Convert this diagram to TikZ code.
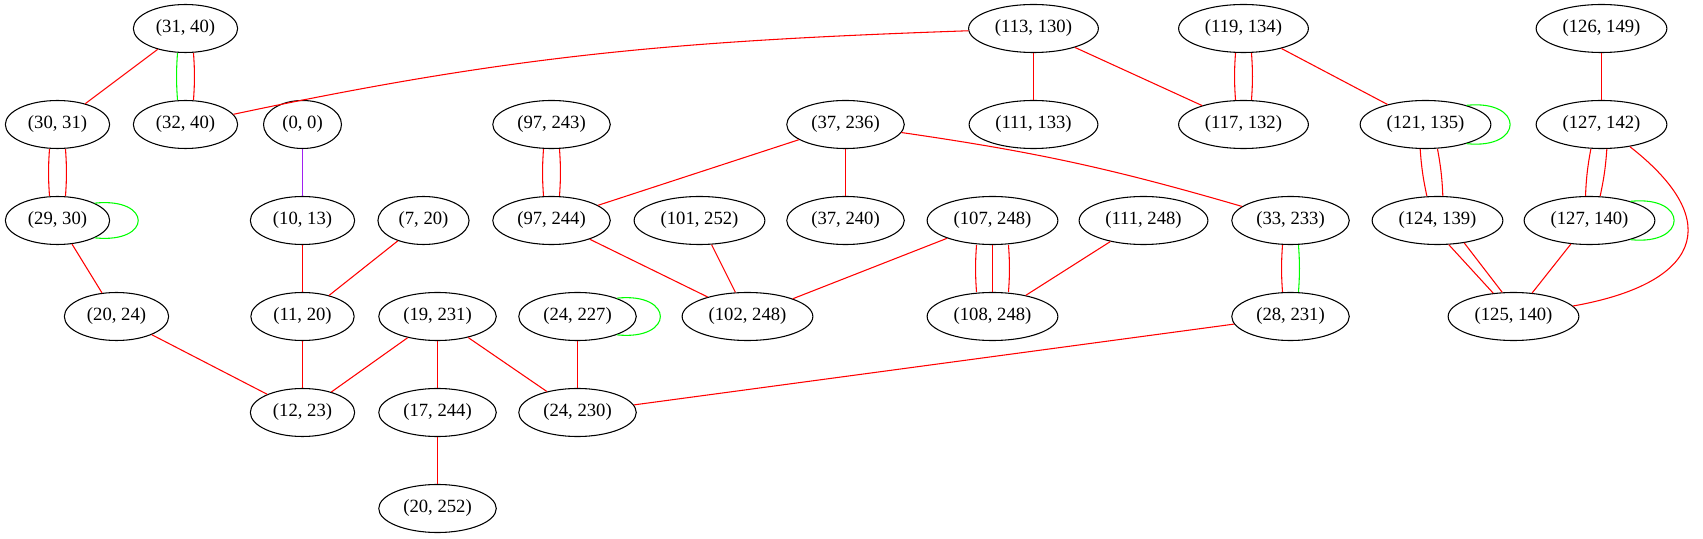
\documentclass[tikz,border=0pt]{standalone}
\usepackage{fontspec}
\setmainfont{Liberation Serif}
\usetikzlibrary{shapes.geometric}
\definecolor{gvpurple}{RGB}{160,32,240}
\begin{document}
\begin{tikzpicture}[x=0.75pt, y=0.75pt, line width=0.8pt,
					every node/.style={draw, ellipse, font=\fontsize{14}{16}\selectfont, inner xsep=5.5pt, inner ysep=2pt, minimum height=36pt},
					link/.style={draw=red},
					twin/.style={draw=green},
					selfloop/.style={draw=green}]
					\useasboundingbox (0,0) rectangle (1703,539);
					\begin{scope}[shift={(0.5,0.5)}]
					% row 1
					\node (n31x40) at (185,510) {(31, 40)};
					\node (n113x130) at (1033,510) {(113, 130)};
					\node (n119x134) at (1243,510) {(119, 134)};
					\node (n126x149) at (1601,510) {(126, 149)};
					% row 2
					\node (n30x31) at (57,414) {(30, 31)};
					\node (n32x40) at (185,414) {(32, 40)};
					\node (n0x0) at (302,414) {(0, 0)};
					\node (n97x243) at (551,414) {(97, 243)};
					\node (n37x236) at (845,414) {(37, 236)};
					\node (n111x133) at (1033,414) {(111, 133)};
					\node (n117x132) at (1243,414) {(117, 132)};
					\node (n121x135) at (1425,414) {(121, 135)};
					\node (n127x142) at (1601,414) {(127, 142)};
					% row 3
					\node (n29x30) at (57,318) {(29, 30)};
					\node (n10x13) at (302,318) {(10, 13)};
					\node (n7x20) at (423,318) {(7, 20)};
					\node (n97x244) at (551,318) {(97, 244)};
					\node (n101x252) at (699,318) {(101, 252)};
					\node (n37x240) at (845,318) {(37, 240)};
					\node (n107x248) at (992,318) {(107, 248)};
					\node (n111x248) at (1143,318) {(111, 248)};
					\node (n33x233) at (1290,318) {(33, 233)};
					\node (n124x139) at (1437,318) {(124, 139)};
					\node (n127x140) at (1589,318) {(127, 140)};
					% row 4
					\node (n20x24) at (116,222) {(20, 24)};
					\node (n11x20) at (302,222) {(11, 20)};
					\node (n19x231) at (437,222) {(19, 231)};
					\node (n24x227) at (577,222) {(24, 227)};
					\node (n102x248) at (747,222) {(102, 248)};
					\node (n108x248) at (992,222) {(108, 248)};
					\node (n28x231) at (1290,222) {(28, 231)};
					\node (n125x140) at (1513,222) {(125, 140)};
					% rows 5 and 6
					\node (n12x23) at (302,126) {(12, 23)};
					\node (n17x244) at (437,126) {(17, 244)};
					\node (n24x230) at (577,126) {(24, 230)};
					\node (n20x252) at (437,30) {(20, 252)};

					% single edges
					\draw[link] (n31x40) -- (n30x31);
					\draw[link] (n113x130) to[out=182, in=12] (n32x40);
					\draw[link] (n113x130) -- (n111x133);
					\draw[link] (n113x130) -- (n117x132);
					\draw[link] (n119x134) -- (n121x135);
					\draw[link] (n126x149) -- (n127x142);
					\draw[link] (n29x30) -- (n20x24);
					\draw[draw=gvpurple] (n0x0) -- (n10x13);
					\draw[link] (n10x13) -- (n11x20);
					\draw[link] (n7x20) -- (n11x20);
					\draw[link] (n11x20) -- (n12x23);
					\draw[link] (n20x24) -- (n12x23);
					\draw[link] (n19x231) -- (n12x23);
					\draw[link] (n19x231) -- (n17x244);
					\draw[link] (n19x231) -- (n24x230);
					\draw[link] (n17x244) -- (n20x252);
					\draw[link] (n24x227) -- (n24x230);
					\draw[link] (n28x231) -- (n24x230);
					\draw[link] (n37x236) -- (n97x244);
					\draw[link] (n37x236) -- (n37x240);
					\draw[link] (n37x236) to[bend left=4] (n33x233);
					\draw[link] (n97x244) -- (n102x248);
					\draw[link] (n101x252) -- (n102x248);
					\draw[link] (n107x248) -- (n102x248);
					\draw[link] (n111x248) -- (n108x248);
					\draw[link] (n127x140) -- (n125x140);
					\draw[link] (n127x142) to[out=-38, in=10, looseness=1.9] (n125x140);

					% multiple edges
					\draw[twin] ([xshift=-6pt]n31x40.south) to[bend right=4] ([xshift=-6pt]n32x40.north);
					\draw[link] ([xshift=6pt]n31x40.south) to[bend left=4] ([xshift=6pt]n32x40.north);
					\draw[link] ([xshift=-6pt]n30x31.south) to[bend right=4] ([xshift=-6pt]n29x30.north);
					\draw[link] ([xshift=6pt]n30x31.south) to[bend left=4] ([xshift=6pt]n29x30.north);
					\draw[link] ([xshift=-6pt]n97x243.south) to[bend right=4] ([xshift=-6pt]n97x244.north);
					\draw[link] ([xshift=6pt]n97x243.south) to[bend left=4] ([xshift=6pt]n97x244.north);
					\draw[link] ([xshift=-6pt]n119x134.south) to[bend right=4] ([xshift=-6pt]n117x132.north);
					\draw[link] ([xshift=6pt]n119x134.south) to[bend left=4] ([xshift=6pt]n117x132.north);
					\draw[link] ([xshift=-12pt]n107x248.south) to[bend right=4] ([xshift=-12pt]n108x248.north);
					\draw[link] (n107x248) -- (n108x248);
					\draw[link] ([xshift=12pt]n107x248.south) to[bend left=4] ([xshift=12pt]n108x248.north);
					\draw[link] ([xshift=-6pt]n33x233.south) to[bend right=4] ([xshift=-6pt]n28x231.north);
					\draw[twin] ([xshift=6pt]n33x233.south) to[bend left=4] ([xshift=6pt]n28x231.north);
					\draw[link] ([xshift=-4pt]n121x135.south) to[bend right=4] ([xshift=-8pt]n124x139.north);
					\draw[link] ([xshift=9pt]n121x135.south) to[bend left=4] ([xshift=4pt]n124x139.north);
					\draw[link] ([xshift=-8pt]n127x142.south) to[bend right=4] ([xshift=-3pt]n127x140.north);
					\draw[link] ([xshift=4pt]n127x142.south) to[bend left=4] ([xshift=8pt]n127x140.north);
					\draw[link] (n124x139.-65) -- (n125x140.131);
					\draw[link] (n124x139.-40) -- (n125x140.115);

					% self loops
					\draw[selfloop] (n29x30.25) .. controls +(58,6) and +(58,-6) .. (n29x30.-25);
					\draw[selfloop] (n24x227.25) .. controls +(58,6) and +(58,-6) .. (n24x227.-25);
					\draw[selfloop] (n121x135.25) .. controls +(58,6) and +(58,-6) .. (n121x135.-25);
					\draw[selfloop] (n127x140.25) .. controls +(58,6) and +(58,-6) .. (n127x140.-25);
					\end{scope}
				\end{tikzpicture}
\end{document}
